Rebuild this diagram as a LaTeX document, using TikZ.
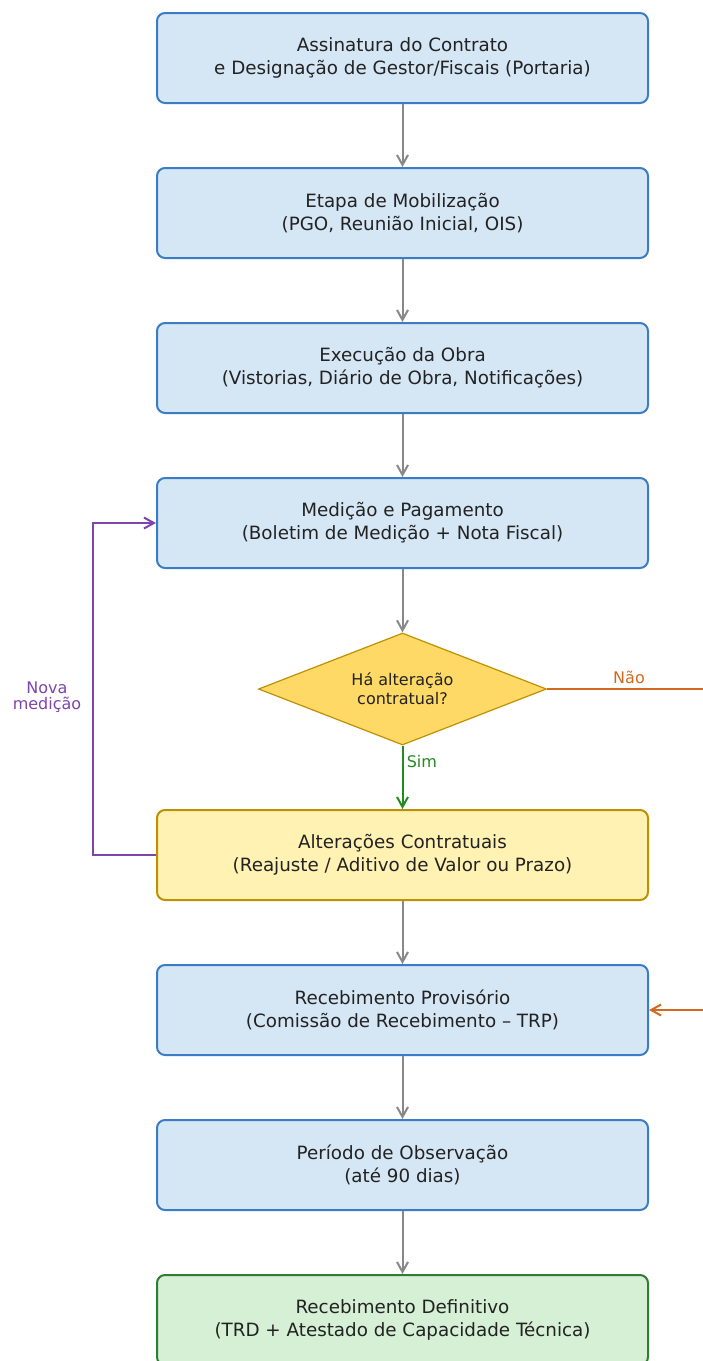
\documentclass[tikz,border=0pt]{standalone}
\usepackage{fontspec}
\setmainfont{DejaVu Sans}
\usetikzlibrary{arrows.meta,positioning,shapes.geometric}
\definecolor{boxblue}{RGB}{213,230,245}
\definecolor{edgeblue}{RGB}{59,125,196}
\definecolor{paleyellow}{RGB}{255,242,179}
\definecolor{gold}{RGB}{255,217,102}
\definecolor{ochre}{RGB}{191,144,0}
\definecolor{palegreen}{RGB}{213,240,213}
\definecolor{forest}{RGB}{46,125,50}
\definecolor{slate}{RGB}{136,136,136}
\definecolor{violet}{RGB}{126,68,173}
\definecolor{rust}{RGB}{210,105,30}
\definecolor{grass}{RGB}{34,139,34}
\definecolor{ink}{RGB}{34,34,34}

\tikzset{
  stage/.style={rounded corners=8pt,line width=2pt,minimum width=491pt,minimum height=90pt,
    align=center,text=ink,font=\fontsize{18.3}{23}\selectfont},
  bluebox/.style={stage,draw=edgeblue,fill=boxblue},
  yellowbox/.style={stage,draw=ochre,fill=paleyellow},
  greenbox/.style={stage,draw=forest,fill=palegreen},
  decision/.style={diamond,aspect=2.57,draw=ochre,fill=gold,line width=1.2pt,inner sep=0pt,
    minimum width=288pt,minimum height=112pt,align=center,text=ink,font=\fontsize{16}{19}\selectfont},
  flow/.style={draw=slate,line width=2pt,-{Straight Barb[length=10pt,width=11pt]}},
  tag/.style={font=\fontsize{16}{16}\selectfont,align=center}
}

\begin{document}
\begin{tikzpicture}[x=1pt,y=-1pt]
  \useasboundingbox (0,0) rectangle (702,1361);

  % etapas
  \foreach \n/\y/\s/\t in {
    assin/58/bluebox/{Assinatura do Contrato\\e Designação de Gestor/Fiscais (Portaria)},
    mobil/213/bluebox/{Etapa de Mobilização\\(PGO, Reunião Inicial, OIS)},
    exec/368/bluebox/{Execução da Obra\\(Vistorias, Diário de Obra, Notificações)},
    medic/523/bluebox/{Medição e Pagamento\\(Boletim de Medição + Nota Fiscal)},
    alter/855/yellowbox/{Alterações Contratuais\\(Reajuste / Aditivo de Valor ou Prazo)},
    provis/1010/bluebox/{Recebimento Provisório\\(Comissão de Recebimento – TRP)},
    observ/1165/bluebox/{Período de Observação\\(até 90 dias)},
    defin/1320/greenbox/{Recebimento Definitivo\\(TRD + Atestado de Capacidade Técnica)}}
  {
    \node[\s] (\n) at (402.5,\y) {\t};
  }

  \node[decision] (decis) at (402.5,689) {Há alteração\\contratual?};

  % ligacoes
  \draw[flow] (assin) -- (mobil);
  \draw[flow] (mobil) -- (exec);
  \draw[flow] (exec) -- (medic);
  \draw[flow] (medic) -- (decis);
  \draw[flow] (alter) -- (provis);
  \draw[flow] (provis) -- (observ);
  \draw[flow] (observ) -- (defin);

  \draw[flow,draw=grass] (decis) -- node[tag,text=grass,right=0pt,pos=0.25] {Sim} (alter);

  \coordinate (loop) at (93,689);
  \draw[flow,draw=violet] (alter.west) -| (loop) |- (medic.west);
  \node[tag,text=violet] (novamed) at (47,697) {Nova\\medição};

  \coordinate (desvio) at (760,850);
  \draw[flow,draw=rust] (decis.east) -| (desvio) |- (provis.east);
  \node[tag,text=rust] (nao) at (629,677) {Não};
\end{tikzpicture}
\end{document}
